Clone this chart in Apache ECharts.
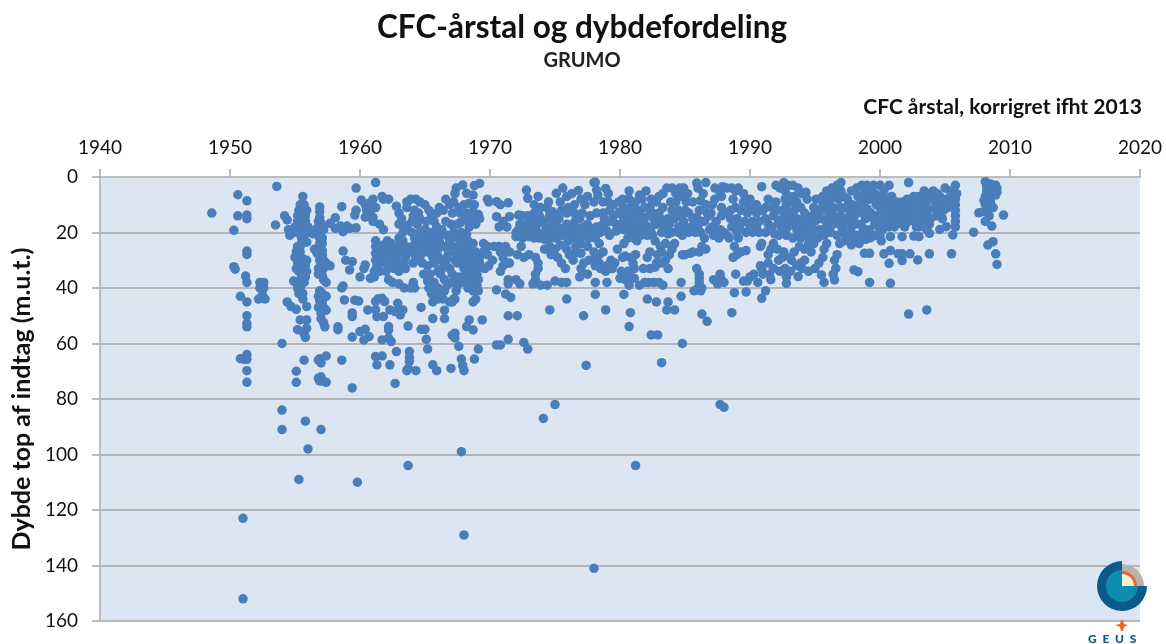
<!DOCTYPE html>
<html><head><meta charset="utf-8">
<style>html,body{margin:0;padding:0;background:#fff}#c{width:1166px;height:644px}</style>
<script src="https://cdn.jsdelivr.net/npm/echarts@6/dist/echarts.min.js"></script>
</head><body><div id="c"></div>
<script>
const xTicks=[1940,1950,1960,1970,1980,1990,2000,2010,2020];
const yTicks=[0,20,40,60,80,100,120,140,160];
const chartTitle="CFC-årstal og dybdefordeling";
const chartSubtitle="GRUMO";
const xTitle="CFC årstal, korrigret ifht 2013";
const yTitle="Dybde top af indtag (m.u.t.)";

const points1948to1954=[[1948.6,13],[1950.6,6.4],[1951.3,8.6],[1950.6,14],[1951.3,13.7],[1951.3,15],[1950.3,19.2],[1951.3,26.7],[1951.3,27.9],[1950.3,32.3],[1950.4,33.2],[1951.2,35.7],[1951.3,38],[1950.8,43],[1951.3,45],[1951.3,50],[1951.3,52.7],[1951.3,54],[1950.8,65.5],[1951.3,64],[1951.1,65.7],[1951.3,65.7],[1951.3,69.8],[1951.3,74],[1951,123],[1951,152],
[1952.3,38],[1952.6,38],[1952.3,40],[1952.6,40],[1952.2,44],[1952.7,44],[1952.5,42.5],[1953.6,3.4],[1953.5,17.3],[1954.2,14],[1954.4,15.5],[1954.5,19],[1954.6,21],[1954.4,45],[1954.7,46.7],[1954,60],[1954,84],[1954,91]];

const points1955to1959=[[1955.6,7],[1955.4,10],[1955.7,10],[1955.3,12],[1955.6,12],[1955.9,12],[1955.2,14],[1955.5,14],[1955.8,14],[1955.2,16],[1955.5,16],[1955.8,16],[1955,18],[1955.3,18],[1955.6,18],[1956,18],[1955.1,20],[1955.4,20],[1955.7,20],[1956,20],[1955.5,22],[1955.7,22],[1955.5,24],[1955.9,23.5],[1955.2,25],[1955.4,25],[1955.1,27],[1955.4,27],[1955,29],[1955.4,29],[1955.2,31],[1955.6,29.5],[1955.9,30],[1955.1,33],[1955.5,32],[1955.8,32],[1955.3,34],[1955.7,34],[1955.9,34],[1955.5,36],[1955.8,36],[1955.5,38],[1954.9,37.5],[1955.1,38],[1955.7,38],[1955.2,40],[1955.4,40],[1955.3,42],[1955.6,42],[1955.6,44],[1955.1,47.7],[1955.9,46.7],[1955.4,51.5],[1955.9,51.5],[1955.2,55],[1955.9,54.5],[1955.8,57.8],[1955.7,56.5],[1955.7,66],[1955.1,70],[1955.1,74],[1955.8,88],[1956,98],[1955.3,109],
[1956.9,10.8],[1956.9,12.5],[1956.9,14.5],[1956.8,16],[1957,16.5],[1956.8,18],[1957.1,18],[1956.6,19],[1956.9,20],[1957.2,19],[1956.4,20.5],[1956.9,22],[1957.1,22],[1956.9,24],[1957.1,24],[1956.5,26],[1956.9,26],[1957.1,26.5],[1956.7,27.5],[1957.1,28],[1956.9,30],[1957.2,30],[1957,31.5],[1957.4,31],[1957.7,32],[1956.8,33],[1957.2,33],[1956.8,35],[1957.1,35.5],[1957.2,37],[1957.4,38],[1956.9,41],[1957.1,42],[1956.8,43],[1957.4,43],[1956.9,44.5],[1957.1,45],[1956.8,47],[1957.2,47],[1957.4,48],[1957,49],[1957,51],[1957.2,52.5],[1957.3,54],[1956.9,65.5],[1956.8,66],[1957,67],[1957.4,64.5],[1956.8,72.5],[1957,72],[1956.9,73.5],[1957.1,73.5],[1957.4,74],[1957,91],
[1957.7,16.7],[1958.1,14.7],[1958.1,18.5],[1958.5,17.7],[1958.7,19.7],[1959,17.7],[1959.2,18.5],[1959.7,18.3],[1958.6,10.7],[1958.7,26.7],[1958.9,30],[1959.4,30.5],[1959.2,33.5],[1958.7,39.3],[1958.6,40],[1958.8,44.3],[1959.6,44.4],[1959.9,44.7],[1959.4,49],[1959.4,50.3],[1958.3,54],[1958.3,55],[1959.4,57.7],[1958.6,66],[1959.4,76],[1959.8,110],[1959.7,4],[1959.6,13.7],[1959.7,12]];

const points1960to1964=[[1960,36],[1960.3,33],[1960.4,31.7],[1960.1,8.3],[1960.4,10],[1960.7,9.5],[1961,8],[1960.5,12],[1960.8,13],[1961.2,11],[1960.4,14.5],[1961,14.5],[1961,16],[1961.5,17],[1961.8,19],[1961.8,8],[1962.2,8],[1961.7,7],[1961.2,2],[1960.8,36.5],[1961.2,23],[1961.2,25],[1961.2,27.5],[1961.5,26],[1961.5,28.5],[1961.2,30],[1961.3,32],[1961.6,31],[1961.1,34],[1961.5,34],[1961.1,36],[1961.8,24.5],[1961.9,27],[1962,29],[1962.2,26],[1962.4,24],[1962.4,28],[1962.5,30.5],[1962.7,26],[1962.8,28.5],[1962.2,32],[1962.6,33],[1963,31],[1963,26],[1963.1,24],[1963,22],[1963.3,20],[1963.3,27],[1963.5,29],[1963.5,25],[1963,34],[1963.5,33],[1962.2,37],[1962.5,38],[1963,38.5],[1963.4,40],[1963.9,40],[1964.1,38],[1964.2,40],[1962.8,10.5],[1963,13],[1963.2,15],[1963,17],[1963.5,17.5],[1963.7,19],[1964,20],[1963.6,9],[1963.9,8],[1964.3,8],[1964.6,9],[1963.6,11],[1964.2,12],[1964.1,14],[1964.5,13],[1964.6,15],[1964,16],[1964.4,17],[1964.2,22],[1964.5,23],[1964.6,20],[1964,25],[1964.3,26],[1964.7,25],[1964.3,29],[1964.7,28],[1964.8,31],[1960,55.7],[1960.4,54.9],[1960.7,57.5],[1960.3,58.7],[1960.6,47.9],[1961.2,47.9],[1961.3,50.3],[1961.8,50.3],[1962.3,47.9],[1962.7,48.5],[1963.1,49.7],[1963.3,47.9],[1961.2,44.9],[1961.7,43.7],[1961.9,44.9],[1961.4,43.9],[1962.9,45.5],[1962.2,53.9],[1962.2,55.1],[1961.7,58.7],[1962.2,58.1],[1962.4,59.3],[1961.2,64.7],[1961.7,64.5],[1961.3,67.7],[1962.3,67.7],[1962.8,62.9],[1963.8,62.9],[1963.8,66.5],[1963.6,69.8],[1964.3,69.8],[1963.7,53.7],[1964.7,54.9],[1962.7,74.4],[1963.7,104],[1964.7,47],[1963.7,69],[1963.8,65]];

const points1965to1969=[[1965,54.9],[1965.1,58.5],[1965.2,62],[1965.6,67.7],[1965.9,69.8],[1967,69],[1965.6,51],[1965,10],[1965.3,12],[1965.5,14],[1965.1,16],[1965.7,16],[1965.9,18],[1965,19],[1965.4,20],[1965.8,20.5],[1965.1,22],[1965.5,22.5],[1965,24],[1965.4,25],[1965.8,24],[1966.1,23],[1965.2,27],[1965.7,27],[1966,26],[1965.6,29],[1966,28.5],[1965.2,32],[1965.7,31],[1965.4,35],[1966,34],[1965.2,37.5],[1965.7,38],[1965.3,40],[1965.5,42],[1965.8,43],[1965.6,45],[1966,44],[1966.2,42],[1966.4,44],[1966.5,48],[1966.5,51],[1966.9,45],[1967.2,44],[1966.2,35],[1966.5,37],[1966.7,39],[1966,40],[1966.5,41],[1966.9,33],[1967.1,35],[1967.3,30],[1966.4,12],[1966.6,8],[1966.9,10],[1967.1,13],[1966.6,16],[1967,17],[1966.3,19],[1966.7,21],[1967.2,20],[1967.5,17],[1966.5,25],[1966.8,27],[1967.1,25],[1967.5,22],[1967.8,20],[1966.3,30],[1966.6,31],[1967.3,6],[1967.4,4],[1967.9,2.9],[1968.8,3.1],[1969.2,2.3],[1968.2,5.9],[1968.7,6.5],[1967.2,9],[1967.6,11],[1968,10],[1968.4,9.5],[1968.8,10],[1967.7,13],[1968.2,13],[1968.7,12.5],[1969.1,13.5],[1969.2,15],[1968.9,17],[1968.5,15],[1968,15.5],[1967.7,16.5],[1968.4,18],[1967.8,22],[1968.3,23],[1968.7,24],[1968.9,27],[1968,25],[1967.7,27],[1967.4,28],[1967.7,30],[1968.2,28],[1968.6,29],[1969.2,29],[1967.5,31],[1968.1,31],[1968.7,31],[1969,33],[1969.5,24],[1969.8,25],[1969.5,27],[1969.2,31],[1969.6,33],[1968,33],[1968.4,35],[1968,36],[1968.8,34],[1968.6,37],[1969.1,37],[1967.1,38],[1967.5,39],[1968,38],[1968.3,40],[1968.7,39],[1969,39],[1967.4,41],[1968.7,41],[1969.1,41],[1967.3,44],[1967.1,45],[1967.3,56.3],[1967.3,58],[1967.6,61],[1968.4,51.5],[1969.4,51.5],[1968.2,53.9],[1968.7,55.1],[1967.1,57],[1968.9,44],[1968.7,45],[1969.1,62],[1968.8,65.6],[1967.8,65.6],[1968,69.8],[1967.9,68],[1967.8,99],[1968,129],[1969.9,9],[1969.8,8]];

const points1970to1979=[[1970.5,8.9],[1970.8,10],[1971.4,9.3],[1970.5,14.3],[1970.7,18],[1971.5,14.3],[1972.2,13.7],[1971,16],[1971.3,18],[1970.3,25],[1970.7,25],[1971.2,25],[1971.5,27],[1970.8,27],[1971,29],[1971.5,31],[1971,32],[1970.8,34],[1972.1,28],[1972.6,29],[1971.3,31],[1970.2,30],[1969.9,32],[1971.4,37],[1971.4,38.5],[1972,37],[1972.3,38.5],[1970.5,40.7],[1971.2,42.2],[1971.6,43.4],[1971.4,50],[1972.1,50],[1970.5,60.5],[1970.8,60.5],[1971.4,58.5],[1972.6,59.6],[1972.9,62],[1972.8,4.7],[1972.9,7.7],[1973.7,7],[1974.5,9],[1975.1,5.9],[1975.6,4],[1975.9,7],[1976.3,6],[1976.8,4.9],[1977,8],[1977.3,10],[1976.5,10],[1973.4,10],[1973.9,11],[1974.4,11],[1972.5,14],[1972.9,14],[1973.4,13],[1973.8,14],[1972.3,17],[1972.7,18],[1973.1,18],[1973.6,17],[1974,16],[1974.5,15],[1975,14],[1975.5,12],[1975.9,13],[1976.5,13],[1974.8,12.5],[1975.3,15],[1975.9,17],[1976.4,17],[1976.9,15],[1977.1,13],[1977.5,17],[1972,20],[1972.4,20],[1972.8,20],[1973.2,20],[1973.7,20],[1974.1,20.5],[1974.5,19.5],[1975,20],[1975.5,21],[1976,20],[1976.5,20],[1977,20],[1977.5,20],[1978,20],[1972,21.5],[1972.5,22],[1973,21.5],[1973.8,22],[1975.1,22],[1976.3,22],[1976.8,23],[1977.6,22],[1978.1,22],[1978.5,20],[1979,19.5],[1974.6,25],[1974.2,26],[1975,26],[1975.4,24.5],[1975.9,26],[1976.6,25],[1977,24],[1977.5,25],[1974.8,27],[1974.7,28],[1975.2,29],[1975.5,31],[1975.8,33],[1973.5,29],[1973.7,31],[1973.7,33],[1973.5,35],[1973.5,37],[1973.9,39],[1973.3,38.5],[1974.4,39],[1975,37.5],[1975.5,38],[1975.9,38],[1976.1,28],[1976.5,27.5],[1977,27.5],[1977.2,31],[1977.9,30],[1978,27],[1978.4,28],[1978.7,27],[1977.6,30],[1978.1,32],[1978.4,31],[1979,32],[1979.3,30],[1979.6,31],[1978.9,34],[1979.4,33],[1976.9,36],[1977.5,35],[1978.1,38],[1979,38],[1975.9,44],[1974.6,47.9],[1977.2,50],[1978.1,42.3],[1978.9,47.9],[1977.4,67.9],[1974.1,87],[1975,82],[1978,141],[1978.1,1.9],[1978.2,4.7],[1978.3,6.5],[1978.9,4.1],[1979.1,6],[1978.7,9],[1978.2,13],[1978.7,13],[1979.2,12],[1979.5,10],[1979.9,9],[1979.5,14],[1979.2,16],[1978.8,17],[1979.9,13],[1979.7,17],[1979.2,21],[1978,2],[1978,9]];

const points1980to1989=[[1980.2,8],[1980.7,5],[1980.7,8],[1980.3,11],[1980.8,11],[1981.2,9],[1981.7,8],[1982,5],[1982.4,8],[1980.2,14],[1980.6,14],[1981,13],[1981.4,12],[1981.9,11],[1982.3,11],[1982.8,9],[1980.1,17],[1980.5,17],[1980.9,16],[1981.3,16],[1981.8,15],[1982.2,14],[1982.6,15],[1983,13],[1980.3,19],[1980.7,20],[1981.2,19],[1981.6,18],[1982,19],[1982.4,18],[1982.8,17],[1983.2,17],[1980.6,22],[1981.1,22],[1981.6,21],[1982.1,21],[1982.5,21],[1983.2,20],[1983.5,18],[1983.7,15],[1983.3,11],[1983.3,6],[1983.6,4],[1984,4],[1984.3,6],[1984.6,4],[1984.9,4],[1983.9,9],[1984.3,9],[1984.8,7],[1985.1,9],[1984,12],[1984.5,12],[1985,12],[1984.2,15],[1984.5,18],[1984.9,16],[1985.3,13],[1985.6,15],[1986,4],[1986.6,2],[1986.4,6],[1986.6,10],[1986.1,12],[1985.6,9],[1985.5,18],[1985.9,17],[1986.3,16],[1986.7,13],[1987,13],[1987.3,4],[1987.7,6],[1987.3,8],[1987.8,7],[1986.9,14],[1987.4,16],[1984,20],[1984.5,20],[1984.8,21],[1985.3,20],[1985.8,20],[1986.2,20],[1986.5,22],[1986.9,19],[1987.2,21],[1987.7,19],[1988,20],[1988.2,21],[1988.6,18],[1988.2,13],[1988.5,12],[1988.9,11],[1987.8,14],[1988.5,15],[1989,15],[1989.3,12],[1989.5,9],[1989.6,16],[1989.8,13],[1989.2,18],[1989.7,20],[1990,18],[1988.9,5],[1988.6,4],[1989.1,4],[1988.2,4],[1987.9,3.5],[1987.1,18],[1988.4,22],[1988.8,25],[1989.3,27],[1989.7,26.5],[1988.7,29],[1989,28],[1989.1,22],[1987.6,22],[1986.3,25],[1985.6,27],[1986.1,27],[1986.6,26],[1985.9,33],[1985.4,27.5],[1985,28],[1984.8,28],[1984.2,24],[1984,26],[1983.8,28],[1983.5,24],[1983.1,25],[1982.9,28],[1983.2,31],[1983.5,30],[1983.7,33],[1983.2,27],[1982.8,31],[1982.3,27],[1982.1,29],[1982.7,32.5],[1982.3,33],[1981.8,33],[1981.1,33],[1980.8,29],[1980.4,28.5],[1980.2,29],[1979.8,26],[1980.3,24],[1980.1,34],[1980.6,34],[1981,31],[1981.2,28],[1981.9,38],[1982.2,38],[1982.6,38],[1983,38],[1983.3,39],[1984.7,38],[1980,36.5],[1980.4,37],[1980.8,36],[1980.7,39],[1981.1,36.5],[1981.5,39],[1986.1,35],[1986.1,36.5],[1986.1,38],[1986,40],[1985.7,41],[1986.3,40],[1986.2,41],[1987.2,37],[1987.5,38.5],[1987.7,35],[1987.8,37],[1988,38],[1988.9,35],[1989.5,37.5],[1989.8,37.5],[1980.3,42.3],[1980.8,48.9],[1980.7,53.9],[1982.1,44],[1982.8,45],[1983.7,45],[1983.6,47.9],[1984.2,47.9],[1984.7,43],[1986.3,49.4],[1986.7,52],[1988.6,48.9],[1988.8,41.7],[1989.7,41.4],[1982.4,56.9],[1982.9,56.9],[1984.8,60],[1983.2,66.9],[1987.7,82],[1988,83],[1981.2,104],[1985.9,2.2],[1986.5,16]];

const points1990to1999=[[1990,8],[1990.5,10],[1990.9,3.5],[1990.5,13],[1991,12],[1991.4,8],[1990.2,16],[1990.7,16],[1991.2,15],[1991.7,11],[1992,9],[1990.2,20],[1990.7,20],[1991.2,20],[1991.7,18],[1992.2,16],[1991.8,14],[1990.9,24],[1990.8,25],[1991.8,24],[1991.6,26],[1991.4,28],[1990.9,33],[1991,35],[1992.2,30],[1991.8,33],[1991.5,35],[1991.6,37],[1992.3,34],[1992.7,33],[1993.1,29],[1992.5,29],[1992.6,27],[1992,3],[1992.3,4],[1992.6,2],[1992.9,3],[1992.7,5],[1992.7,8],[1992.8,10],[1992.5,12],[1993,13],[1992.7,15],[1992.4,18],[1992.9,18],[1992.2,21],[1992.8,21],[1993.3,3],[1993.7,4],[1994,6],[1994.3,5.5],[1993.4,7],[1993.2,9],[1993.6,9],[1993.9,11],[1993.4,12],[1994.2,13],[1993.6,15],[1994,16],[1994.4,15],[1994.8,14],[1993.2,17],[1993.6,19],[1994,19],[1994.5,18],[1995,16],[1993.3,22],[1993.9,22],[1994.4,21],[1994.9,19],[1995.2,13],[1995.6,10],[1995.1,8],[1995.6,7],[1995.9,5],[1996.3,4],[1996.7,3],[1997,2],[1996.5,6],[1997,5],[1996.2,8],[1996.8,8],[1997.2,7],[1995.9,12],[1996.4,11],[1996.9,11],[1995.5,15],[1996,15],[1996.5,14],[1997,14],[1997.3,11],[1995.4,19],[1995.9,18],[1996.4,17],[1996.9,17],[1997.3,17],[1995.2,22],[1995.7,21],[1996.2,20],[1996.7,21],[1997.2,20],[1994.5,24],[1994.7,27],[1994.2,30],[1994,33],[1993.7,35.9],[1992.8,38.3],[1992.8,36],[1993.1,34],[1993.6,32],[1995,33],[1994.5,34],[1993.9,31],[1994.2,26],[1993.8,25],[1995.5,35.3],[1995.7,38],[1996.6,32.9],[1996.5,37.1],[1996.4,35],[1995.7,26],[1995.9,24],[1995.6,29],[1995.3,31],[1996.5,30],[1996.7,28],[1996.9,24],[1997.7,23],[1998,33.5],[1998.3,34.1],[1998.8,27.5],[1999.2,27.5],[1999.2,38],[1997.5,22],[1997.5,8],[1997.9,10],[1997.8,5],[1998.2,4],[1998.6,3],[1999,3],[1998.3,7],[1998.8,6],[1998.4,10],[1998.8,9],[1999.2,8],[1997.7,13],[1998.2,13],[1998.6,13],[1997.7,16],[1998.1,17],[1998.5,17],[1998.9,15],[1999.3,13],[1999.5,3],[1999.6,6],[1999.7,10],[1997.8,20],[1998.3,21],[1998.8,20],[1999.2,19],[1999.6,17],[1999.8,14],[1998.9,22.5],[1999.4,21.5],[1997.3,23],[1998.2,23],[1998.4,24],[1997.8,24.5],[1994.9,24],[1993.4,27],[1993.2,30],[1991.2,41],[1990.9,43.7],[1990.6,38],[1990.3,35],[1990,36],[1990.8,32],[1991.4,31],[1992.1,26]];

const points2000to2009=[[2000,3],[2000.7,3],[2000,7],[2000.5,8],[2000.9,7],[2000,11],[2000.4,11],[2000.9,10],[2001.3,9],[2001.7,9],[2002.2,2],[2002.1,8],[2002.6,7],[2003,7],[2003.4,5],[2003.8,6],[2004.1,5],[2000.1,14],[2000.5,14],[2000.9,13],[2001.3,12],[2001.8,12],[2002.2,11],[2002.7,10],[2003.1,10],[2003.6,9],[2004.1,8],[2004.6,7],[2005,4],[2005.4,5],[2005.8,3],[2000.1,17],[2000.5,17],[2000.9,16],[2001.4,15],[2001.9,14],[2002.3,14],[2002.8,13],[2003.2,13],[2003.7,12],[2004.2,11],[2004.7,10],[2005.1,8],[2005.9,6],[2000.2,19],[2000.7,18],[2001.1,18],[2001.7,17],[2002.2,16],[2002.7,16],[2003.1,16],[2003,18],[2003.5,15],[2003.9,15],[2004.3,14],[2004.9,12],[2005.8,8],[2005.8,10],[2005.8,12],[2005.8,14],[2005.8,16],[2000.8,21.5],[2001.7,21.5],[2002.6,21.3],[2003,21.5],[2005.6,20.9],[2003.8,20.3],[2004.6,18.9],[2005.1,17.9],[2004.8,15],[2003.5,17.5],[2003.6,19],[2000.3,27.7],[2000.8,26.5],[2001.4,27.7],[2001.7,27.7],[2002.3,27.7],[2001.7,30.1],[2000.7,31.1],[2003.8,27.7],[2002.9,29.9],[2005.5,27.7],[2000.8,38.3],[2002.2,49.4],[2003.6,47.9],[2000.1,23],[2000,21],[1999.7,21],[2007.2,19.9],[2007.6,12.9],[2008.1,1.7],[2008.2,3.5],[2008.2,5],[2008.1,7],[2008,8.5],[2008.9,3],[2009,4.2],[2009,5.5],[2008.5,2.5],[2008.6,4.5],[2008.5,6.5],[2008.9,6.5],[2008.5,9],[2008.1,10],[2008,12.5],[2008.3,12],[2008.7,11],[2009.5,13.7],[2008.6,17.7],[2008.1,16],[2008.4,14],[2008.7,23.3],[2008.3,24.5],[2008.9,27.7],[2009,31.5]];

const pointsDenseBand1960s=[[1962.1,23],[1963.3,23],[1963.9,27],[1964.1,31],[1963.4,31],[1962,34],[1966.2,21],[1966.9,23],[1967.6,25],[1966.7,29],[1966.3,33],[1964.9,35],[1968.3,26],[1968,29.5],[1968.4,32.5],[1969.8,28],[1969,35],[1967.6,36],[1966.1,11],[1965.9,13],[1968.2,20.5]];

const pointsDenseBand1970s=[[1972.2,19],[1973.3,16],[1974.3,18],[1975.2,18],[1976.2,18.5],[1977.2,18],[1978.2,18],[1973.4,22],[1974.7,22],[1976,23],[1974.6,13],[1976.6,15.5],[1977.7,14],[1978.8,15],[1979.7,19.5],[1978.4,24],[1976,11],[1975.4,9],[1977.5,7],[1979.1,9],[1972.4,25],[1973,28],[1976.4,30],[1977,33],[1978.5,33],[1972.6,20.5],[1973.5,18.5],[1974.9,17],[1975.7,18.5],[1976.7,18.5],[1977.7,18.5],[1978.6,17.5],[1972.9,16.5],[1974.2,22.5],[1977,21.5]];

const pointsDenseBand1980s=[[1980,12.5],[1981,11],[1981.6,14],[1982.5,13],[1983.1,15],[1983,7],[1981.5,6.5],[1980.8,18],[1981.9,17],[1982.9,15],[1983.8,17],[1984.7,14],[1985,18],[1985.9,14.5],[1985.2,6],[1986.2,8.5],[1987.1,10],[1987.8,11],[1988.7,8],[1989.5,6],[1988.9,17],[1987.4,19],[1986,18.5],[1984.7,18.5],[1983.7,20.5],[1982.4,20],[1981.3,23],[1982.7,23],[1989.9,11],[1989,20]];

const pointsDenseBand1990s=[[1990.3,11.5],[1991.2,11],[1992.1,12],[1991.4,17],[1990.5,18],[1992.5,15],[1993.2,14],[1992.9,16],[1993.8,17],[1994.7,16],[1995.4,12],[1996.2,13],[1996.1,10],[1995.9,16.5],[1996.7,15.5],[1997.5,15],[1997.1,18.5],[1995.6,20],[1994.7,22],[1993.8,20.5],[1992.7,19.5],[1991.9,20.5],[1993,7],[1994.4,8],[1994.9,11],[1995.9,8],[1996.8,5.5],[1997.6,10],[1998.1,11],[1999,11.5],[1999.3,5],[1998,14.5],[1998.8,13],[1999.5,15],[1998.7,18.5],[1997.8,18],[1999.9,18],[1999.9,8],[1999.2,22]];

const pointsDenseBand2000s=[[2000.3,5],[2000.3,9.5],[2000.7,12],[2001.5,10.5],[2002.4,9.5],[2003.3,8],[2004.4,6],[2000.8,15],[2001.6,13.5],[2002.5,12.5],[2003.4,11.5],[2004.4,10],[2003.5,13.5],[2002.5,15],[2001.5,16.5],[2001.9,18],[2002.8,18],[2003.8,17],[2004.5,13],[2005.2,11],[2005.4,8],[2005.8,18]];

const allPoints=[...points1948to1954,...points1955to1959,...points1960to1964,...points1965to1969,...points1970to1979,...points1980to1989,...points1990to1999,...points2000to2009,...pointsDenseBand1960s,...pointsDenseBand1970s,...pointsDenseBand1980s,...pointsDenseBand1990s,...pointsDenseBand2000s];

const font='Lato, "Open Sans", sans-serif';
const chart=echarts.init(document.getElementById('c'),null,{renderer:'canvas'});
const logoX=1122,logoY=586;
chart.setOption({
  animation:false,
  backgroundColor:'#ffffff',
  title:[
    {text:chartTitle,left:582,top:12,padding:0,textAlign:'center',textStyle:{fontFamily:font,fontWeight:'bold',fontSize:31.5,color:'#111'}},
    {text:chartSubtitle,left:582,top:51,padding:0,textAlign:'center',textStyle:{fontFamily:font,fontWeight:'bold',fontSize:20,color:'#222'}},
    {text:xTitle,left:1142,top:97,padding:0,textAlign:'right',textStyle:{fontFamily:font,fontWeight:'bold',fontSize:21,color:'#111'}}
  ],
  grid:{left:100,right:26,top:177,bottom:23,backgroundColor:'#DCE6F2',show:true,borderWidth:0,outerBoundsMode:'none',containLabel:false},
  xAxis:{type:'value',position:'top',min:1940,max:2020,interval:10,
    axisLine:{show:true,onZero:false,lineStyle:{color:'#BDBDBD',width:2}},
    axisTick:{show:true,length:8,inside:false,lineStyle:{color:'#A6A6A6',width:1.5}},
    axisLabel:{fontFamily:font,fontSize:19,color:'#111',margin:20,
      formatter:v=>xTicks.includes(v)?String(v):''},
    splitLine:{show:false}},
  yAxis:{type:'value',inverse:true,min:0,max:160,interval:20,
    name:yTitle,nameLocation:'middle',nameRotate:90,nameGap:66,
    nameTextStyle:{fontFamily:font,fontWeight:'bold',fontSize:25,color:'#111'},
    axisLine:{show:true,onZero:false,lineStyle:{color:'#BDBDBD',width:2}},
    axisTick:{show:true,length:8,lineStyle:{color:'#A6A6A6',width:1.5}},
    axisLabel:{fontFamily:font,fontSize:19,color:'#111',margin:22,
      formatter:v=>yTicks.includes(v)?String(v):''},
    splitLine:{show:true,lineStyle:{color:'#A6A6A6',width:1.5}}},
  series:[{type:'scatter',data:allPoints,symbol:'circle',symbolSize:9.5,clip:false,
    itemStyle:{color:'#4A7EBB',opacity:1,borderWidth:0}}],
  graphic:[
    {type:'sector',z:10,shape:{cx:logoX,cy:logoY,r:25,r0:0,startAngle:0,endAngle:Math.PI*1.5},style:{fill:'#0B5A8A'}},
    {type:'sector',z:11,shape:{cx:logoX,cy:logoY,r:16,r0:0,startAngle:0,endAngle:Math.PI*1.5},style:{fill:'#0E8CAF'}},
    {type:'sector',z:10,shape:{cx:logoX,cy:logoY,r:22,r0:0,startAngle:-Math.PI/2,endAngle:0},style:{fill:'#B9B3AC'}},
    {type:'sector',z:11,shape:{cx:logoX,cy:logoY,r:15,r0:0,startAngle:-Math.PI/2,endAngle:0},style:{fill:'#E8662F'}},
    {type:'sector',z:12,shape:{cx:logoX,cy:logoY,r:12,r0:0,startAngle:-Math.PI/2,endAngle:0},style:{fill:'#F5F2D6'}},
    {type:'polygon',z:12,shape:{points:[[1121,620],[1123,620],[1124,624],[1128,625],[1124,627],[1123,631],[1121,631],[1120,627],[1115,625],[1120,624]]},style:{fill:'#E8662F'}},
    {type:'text',z:12,x:1088,y:633,style:{text:'G  E  U  S',font:'900 12px '+font,fill:'#0B5A8A'}}
  ]
});
</script></body></html>
